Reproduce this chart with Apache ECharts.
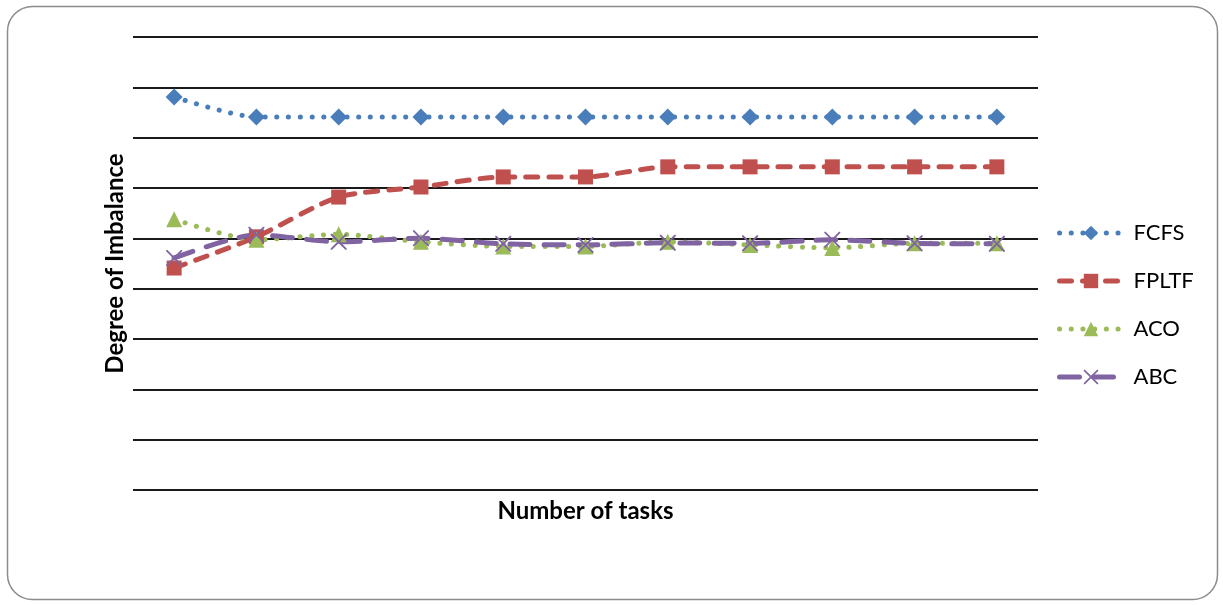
<!DOCTYPE html>
<html>
<head>
<meta charset="utf-8">
<script src="https://cdn.jsdelivr.net/npm/echarts@6/dist/echarts.min.js"></script>
<style>
  html, body { margin: 0; padding: 0; background: #fff; }
  #chart { width: 1223px; height: 605px; }
</style>
</head>
<body>
<div id="chart"></div>
<script>
// Task counts (unlabelled on the axis)
const categories = ['1', '2', '3', '4', '5', '6', '7', '8', '9', '10', '11'];

// Degree of imbalance per scheduling algorithm
const fcfs  = [7.81, 7.41, 7.41, 7.41, 7.41, 7.41, 7.41, 7.41, 7.41, 7.41, 7.41];
const fpltf = [4.41, 5.03, 5.82, 6.02, 6.22, 6.22, 6.42, 6.42, 6.42, 6.42, 6.42];
const aco   = [5.38, 4.97, 5.08, 4.93, 4.84, 4.84, 4.93, 4.87, 4.81, 4.90, 4.90];
const abc   = [4.61, 5.07, 4.93, 5.00, 4.89, 4.87, 4.91, 4.90, 4.97, 4.90, 4.89];

const seriesNames = ['FCFS', 'FPLTF', 'ACO', 'ABC'];

const FONT = 'Lato, "Liberation Sans", sans-serif';
const crossPath = 'path://M0,0 L1.6,0 L10,8.4 L18.4,0 L20,0 L20,1.6 L11.6,10 L20,18.4 L20,20 L18.4,20 L10,11.6 L1.6,20 L0,20 L0,18.4 L8.4,10 L0,1.6 Z';

function lineSeries(name, data, color, dash, symbol, symbolSize) {
  return {
    name: name,
    type: 'line',
    data: data,
    symbol: symbol,
    symbolSize: symbolSize,
    showSymbol: true,
    smooth: 0.25,
    itemStyle: { color: color },
    lineStyle: { color: color, width: 5, type: dash, cap: 'round' },
    emphasis: { disabled: true },
    animation: false
  };
}

const chart = echarts.init(document.getElementById('chart'));
chart.setOption({
  backgroundColor: '#fff',
  graphic: [{
    type: 'rect',
    shape: { x: 7.5, y: 6.5, width: 1210, height: 593, r: 25 },
    style: { fill: 'none', stroke: '#8c8c8c', lineWidth: 1.5 },
    silent: true,
    z: -1
  }],
  grid: { left: 133, right: 185, top: 37, bottom: 115 },
  legend: {
    orient: 'vertical',
    left: 1057,
    top: 222,
    padding: 0,
    itemWidth: 63,
    itemHeight: 18,
    itemGap: 26,
    data: seriesNames,
    lineStyle: { width: 5, cap: 'round' },
    textStyle: { fontFamily: FONT, fontSize: 22, color: '#000', lineHeight: 22, padding: [0, 0, 0, 6] }
  },
  xAxis: {
    type: 'category',
    data: categories,
    boundaryGap: true,
    name: 'Number of tasks',
    nameLocation: 'middle',
    nameGap: 9,
    nameTextStyle: { fontFamily: FONT, fontSize: 24, fontWeight: 'bold', color: '#000' },
    axisLine: { show: false },
    axisTick: { show: false },
    axisLabel: { show: false },
    splitLine: { show: false }
  },
  yAxis: {
    type: 'value',
    min: 0,
    max: 9,
    interval: 1,
    name: 'Degree of Imbalance',
    nameLocation: 'middle',
    nameGap: 6,
    nameRotate: 90,
    nameTextStyle: { fontFamily: FONT, fontSize: 24, fontWeight: 'bold', color: '#000' },
    axisLine: { show: false },
    axisTick: { show: false },
    axisLabel: { show: false },
    splitLine: { show: true, lineStyle: { color: '#1a1a1a', width: 2 } }
  },
  series: [
    lineSeries('FCFS', fcfs, '#4a7ebb', [0.1, 11.6], 'diamond', 17),
    lineSeries('FPLTF', fpltf, '#c0504d', [12, 11], 'rect', 15),
    lineSeries('ACO', aco, '#9bbb59', [0.1, 11.6], 'triangle', 16),
    lineSeries('ABC', abc, '#8064a2', [20, 14], crossPath, 16)
  ]
});
</script>
</body>
</html>
